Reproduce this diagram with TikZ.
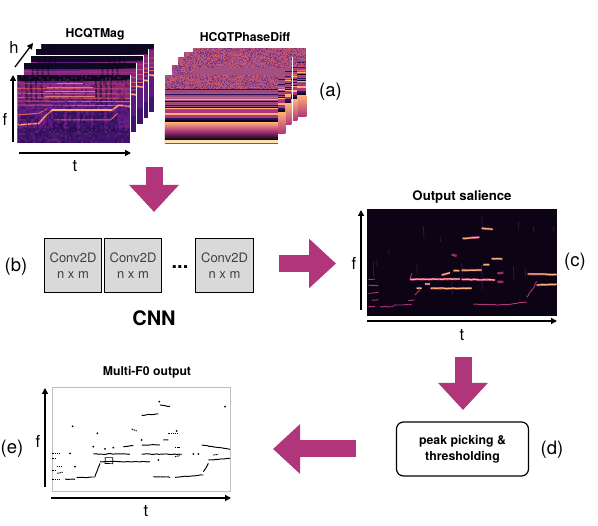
\documentclass[tikz,border=0pt]{standalone}
\usepackage{fontspec}
\setmainfont{TeX Gyre Heros}
\usetikzlibrary{arrows.meta,decorations.pathmorphing}
\definecolor{m0}{HTML}{0B0618}
\definecolor{m1}{HTML}{2C115F}
\definecolor{m2}{HTML}{5A1A82}
\definecolor{m3}{HTML}{B0357B}
\definecolor{m4}{HTML}{F1605D}
\definecolor{m5}{HTML}{FEB078}
\definecolor{m6}{HTML}{FCE3A8}
\definecolor{plum}{HTML}{B0357B}
\definecolor{boxgray}{HTML}{D9D9D9}
\definecolor{salbg}{HTML}{0C0414}
\definecolor{phbase}{HTML}{A4507F}
\tikzset{
  blockarrow/.style={plum,line width=17pt,-{Triangle[length=27pt,width=48pt]}},
  axisarrow/.style={black,line width=1.3pt,-{Triangle[length=6pt,width=6pt]}},
  axlabel/.style={font=\fontsize{16.5}{16.5}\selectfont,inner sep=0pt},
  tag/.style={font=\fontsize{18.5}{18.5}\selectfont,inner sep=0pt},
  imgtitle/.style={font=\fontsize{12.2}{12.2}\selectfont\bfseries,inner sep=0pt},
  convbox/.style={draw=black,line width=0.9pt,fill=boxgray,minimum width=57.5pt,minimum height=54.5pt,inner sep=0pt,align=center,text=black!75,font=\fontsize{13}{16}\selectfont},
  wob/.style={decorate,decoration={random steps,segment length=2.5pt,amplitude=.35pt}},
  note/.style={wob,line width=1.2pt,color=m5},
  glow/.style={wob,line width=2.3pt,color=m3,opacity=.85},
  faint/.style={wob,line width=.9pt,color=m3},
  blk/.style={wob,line width=.95pt,black},
  blkd/.style={line width=.95pt,black,dash pattern=on 1.4pt off .8pt}
}
\pgfmathsetseed{42}
\newcommand{\cellnoise}[9]{%
 \foreach \xx in {#1,\the\numexpr#1+#5\relax,...,#3}{\foreach \yy in {#2,\the\numexpr#2+#5\relax,...,#4}{%
   \pgfmathrandominteger{\rr}{0}{#9}%
   \ifnum\rr=0 \fill[#6,opacity=#8] (\xx,\yy) rectangle ++(#5,#5);\fi
   \ifnum\rr=1 \fill[#7,opacity=#8] (\xx,\yy) rectangle ++(#5,#5);\fi
 }}}
\newcommand{\maglayer}[2]{%
\begin{scope}[shift={(#1,#2)}]
 \begin{scope}
 \clip (0,0) rectangle (338,205);
 \fill[m2] (0,0) rectangle (338,205);
 \fill[m0!85!m1] (0,0) rectangle (338,18);
 \fill[m3,opacity=.5] (0,18) -- (60,26) -- (338,14) -- (338,72) -- (0,72) -- cycle;
 \foreach \x in {25,40,55,72,235,250,265,280}{\draw[m0,line width=1.5pt,opacity=.6] (\x,5) -- (\x+3,85);}
 \foreach \y/\c/\o in {25/m3/.8,40/m4/.7,55/m4/.8,68/m4/.8,78/m4/1,90/m4/1}{\draw[\c,opacity=\o,line width=.9pt] (0,\y) -- (338,\y+2);}
 \foreach \x in {108,148,188,228,268}{\fill[m1,opacity=.7] (\x,112) rectangle (\x+32,172);}
 \fill[m1,opacity=.6] (0,158) rectangle (338,205);
 \fill[m1,opacity=.6] (10,120) rectangle (55,142);
 \draw[m4,line width=1.9pt,opacity=.75] (0,150) -- (65,145) -- (82,125) -- (105,105) -- (285,105) -- (305,90) -- (338,95);
 \draw[m5,line width=.9pt] (0,150) -- (65,145) -- (82,125) -- (105,105) -- (285,105) -- (305,90) -- (338,95);
 \draw[m4,line width=1pt] (0,120) -- (65,115) -- (90,100);
 \draw[m4,line width=1pt] (110,135) -- (280,135) -- (300,115);
 \foreach \x in {30,60,90,150,190,230,300}{\draw[m1,line width=.9pt,opacity=.6] (\x,120) -- (\x,200);}
 \end{scope}
 \draw[white,line width=.8pt] (338,0) -- (338,205);
\end{scope}}
\newcommand{\phaselayer}[2]{%
\begin{scope}[shift={(#1,#2)}]
 \fill[phbase] (0,0) rectangle (339,104);
 \foreach \y/\c in {44/m1,50/m3,58/m1,62/m3,66/m4,72/m5,80/m0,85/m3,91/m1,98/m0,101/m5}{\draw[\c,line width=.8pt] (0,\y) -- (339,\y);}
 \fill[m3] (0,104) rectangle (339,113);
 \fill[m5] (0,113) rectangle (339,120);
 \fill[m3] (0,120) rectangle (339,128);
 \fill[m1] (0,128) rectangle (339,135);
 \fill[m0] (0,135) rectangle (339,142);
 \shade[top color=m5,bottom color=m3] (0,142) rectangle (339,205);
\end{scope}}
\begin{document}
\begin{tikzpicture}[x=1pt,y=-1pt]
\useasboundingbox (0,0) rectangle (598,526);
% ---------- top panel, coordinates in 3x units
\begin{scope}[shift={(0,10)},scale=1/3]
 \maglayer{124}{102}
 \maglayer{108}{118}
 \maglayer{93}{137}
 \maglayer{72}{160}
 \maglayer{52}{195}
 \draw[white,line width=.8pt] (93,137) -- (431,137);
 % texture on the front magnitude layer
 \begin{scope}
  \clip (52,195) rectangle (390,400);
  \cellnoise{52}{195}{384}{394}{6}{m0}{m3}{.28}{4}
  \foreach \a/\b/\c in {140/232/280,135/245/285,135/258/285,170/220/250}{\draw[m5,line width=.8pt,opacity=.65] (\a,\b) -- (\c,\b);}
  \draw[m5,line width=1.1pt] (157,300) -- (337,300);
 \end{scope}
 \phaselayer{580}{114}
 \phaselayer{553}{127}
 \phaselayer{535}{140}
 \phaselayer{517}{165}
 \phaselayer{495}{195}
 \shade[top color=m5,bottom color=m0,middle color=m3] (495,337) rectangle (834,388);
 \fill[m0] (495,388) rectangle (834,391);
 \fill[m6] (495,391) rectangle (834,400);
 \cellnoise{582}{114}{915}{172}{3}{m4}{m2}{.55}{3}
 \cellnoise{495}{195}{831}{234}{3}{m4}{m2}{.55}{3}
 \cellnoise{517}{165}{579}{193}{3}{m4}{m2}{.55}{3}
 \cellnoise{535}{141}{579}{163}{3}{m4}{m2}{.55}{3}
 \cellnoise{553}{127}{579}{139}{3}{m4}{m2}{.55}{3}
 \draw[white,line width=.8pt] (877,140) -- (877,336);
\end{scope}
\node[imgtitle] (magtitle) at (95,34) {HCQTMag};
\node[imgtitle] (phasetitle) at (245,37) {HCQTPhaseDiff};
\node[tag] (taga) at (330.5,92) {(a)};
\coordinate (magforig) at (13,142);
\coordinate (magftop) at (13,75);
\coordinate (magtorig) at (19,153);
\coordinate (magtend) at (131,153);
\coordinate (maghorig) at (15,67);
\coordinate (maghend) at (33,43);
\draw[axisarrow] (magforig) -- (magftop);
\draw[axisarrow] (magtorig) -- (magtend);
\draw[axisarrow] (maghorig) -- (maghend);
\node[axlabel] (maglabf) at (5,119) {f};
\node[axlabel] (maglabt) at (75,166) {t};
\node[axlabel] (maglabh) at (14,47) {h};
% ---------- big arrow down
\coordinate (a1s) at (154,167);
\coordinate (a1e) at (154,212);
\draw[blockarrow] (a1s) -- (a1e);
% ---------- CNN
\node[tag] (tagb) at (16,267) {(b)};
\node[convbox] (c1) at (73,265.5) {Conv2D\\n x m};
\node[convbox] (c2) at (133,265.5) {Conv2D\\n x m};
\node[convbox] (c3) at (224.5,265.5) {Conv2D\\n x m};
\node[inner sep=0pt,font=\fontsize{20}{20}\selectfont\bfseries] (dots) at (180,267) {...};
\node[inner sep=0pt,font=\fontsize{20}{20}\selectfont\bfseries] (cnn) at (154,318) {CNN};
\coordinate (a2s) at (279,263.5);
\coordinate (a2e) at (336,263.5);
\draw[blockarrow] (a2s) -- (a2e);
% ---------- salience
\node[imgtitle,font=\fontsize{13.2}{13.2}\selectfont\bfseries] (saltitle) at (462,197) {Output salience};
\begin{scope}[shift={(340,180)},scale=1/3]
 \fill[salbg] (80,87) rectangle (652,408);
 \foreach \a/\b/\c/\d in {425/110/428/150,580/140/582/160,250/140/252/175,300/170/302/185,145/210/148/225,110/240/112/260,230/255/232/285,535/125/537/150,640/140/642/155,520/260/522/300,555/260/557/290,365/250/367/300,425/255/427/330,335/295/337/345,100/245/100/290}{\draw[m2,opacity=.55,line width=.8pt] (\a,\b) -- (\c,\d);}
 \foreach \a/\b/\c/\d in {368/175/418/172,425/145/458/148,365/271/425/270,365/298/465/300,210/298/360/297,272/325/395/325,563/282/650/284,590/315/650/313,455/236/487/237,430/254/448/254,340/272/358/272,305/285/330/278,230/325/245/325,255/312/270/312,472/280/490/278,472/305/490/305,335/224/350/228}{\draw[glow] (\a,\b) -- (\c,\d);}
 \foreach \a/\b/\c/\d in {368/175/418/172,425/145/458/148,365/271/425/270,365/298/465/300,210/298/360/297,272/325/395/325,563/282/650/284,590/315/650/313,455/236/487/237,430/254/448/254,340/272/358/272,305/285/330/278,230/325/245/325,255/312/270/312}{\draw[note] (\a,\b) -- (\c,\d);}
 \foreach \a/\b/\c/\d in {120/380/160/380,160/376/215/373,205/362/225/360,400/373/470/374,470/376/535/370,535/367/560/367,560/352/580/325,580/325/590/305,225/345/240/330,85/298/105/298,85/315/115/317,85/340/115/338,95/360/115/360,85/380/105/380,210/298/215/280}{\draw[faint] (\a,\b) -- (\c,\d);}
\end{scope}
\coordinate (salfo) at (361,310);
\coordinate (salft) at (361,210);
\coordinate (salto) at (367,321);
\coordinate (salte) at (557,321);
\draw[axisarrow] (salfo) -- (salft);
\draw[axisarrow] (salto) -- (salte);
\node[axlabel] (sallabf) at (354,263) {f};
\node[axlabel] (sallabt) at (462,335) {t};
\node[tag] (tagc) at (575,262) {(c)};
% ---------- down arrow
\coordinate (a3s) at (463,357);
\coordinate (a3e) at (463,410);
\draw[blockarrow] (a3s) -- (a3e);
% ---------- peak picking
\node[draw=black,line width=1.2pt,rounded corners=7pt,minimum width=132pt,minimum height=54pt,inner sep=0pt,align=center,font=\fontsize{12.3}{16}\selectfont\bfseries] (peak) at (462.5,449) {peak picking \&\\thresholding};
\node[tag] (tagd) at (552,450) {(d)};
\coordinate (a4s) at (356,449);
\coordinate (a4e) at (273,449);
\draw[blockarrow] (a4s) -- (a4e);
% ---------- multi-F0
\node[imgtitle] (f0title) at (147,372) {Multi-F0 output};
\begin{scope}[shift={(0,355)},scale=1/3]
 \draw[black!25,fill=white,line width=.7pt] (157,97) rectangle (691,410);
 \foreach \a/\b/\c/\d in {425/181/475/177,480/150/510/154,195/372/225/373,230/368/285/366,300/320/450/320,280/297/390/297,425/297/545/298,370/275/400/272,425/270/480/270,490/255/505/255,460/365/510/367,525/367/610/360,610/350/625/325,625/315/690/310,605/270/690/283,285/365/300/325}{\draw[blk] (\a,\b) -- (\c,\d);}
 \draw[blk,line width=.7pt] (315,308) rectangle (338,326);
 \foreach \a/\b/\c/\d in {157/295/180/295,157/310/165/310,170/333/188/333,157/347/165/347,172/355/188/352,157/372/178/372,395/222/410/228,505/236/535/236,525/278/540/278,525/305/540/302,640/300/655/298}{\draw[blkd] (\a,\b) -- (\c,\d);}
 \foreach \a/\b in {218/214,292/235,280/275,340/278,315/282,210/295,225/335,478/140,675/155,580/297,595/297,475/315,425/255,530/228}{\fill[black] (\a,\b) circle (3);}
\end{scope}
\coordinate (f0fo) at (45,487);
\coordinate (f0ft) at (45,388);
\coordinate (f0to) at (51,498);
\coordinate (f0te) at (231,498);
\draw[axisarrow] (f0fo) -- (f0ft);
\draw[axisarrow] (f0to) -- (f0te);
\node[axlabel] (f0labf) at (38,441) {f};
\node[axlabel] (f0labt) at (146,511) {t};
\node[tag] (tage) at (12,449) {(e)};
\end{tikzpicture}
\end{document}
